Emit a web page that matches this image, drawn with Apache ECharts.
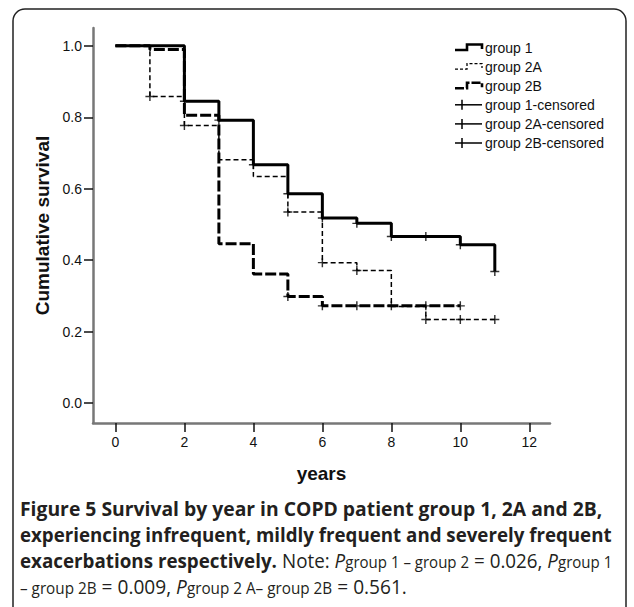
<!DOCTYPE html>
<html><head><meta charset="utf-8">
<script src="https://cdn.jsdelivr.net/npm/echarts@6/dist/echarts.min.js"></script>
<style>html,body{margin:0;padding:0;background:#fff}#c{width:634px;height:607px}</style>
</head><body><div id="c"></div>
<script>
// ---- data ----
const xTicks = [0, 2, 4, 6, 8, 10, 12];
const yTicks = [0.0, 0.2, 0.4, 0.6, 0.8, 1.0];

const g1Time = [0, 2, 3, 4, 5, 6, 7, 8, 10, 11];
const g1Surv = [1.0, 0.845, 0.792, 0.667, 0.586, 0.518, 0.503, 0.466, 0.443, 0.368];
const g2aTime = [0, 1, 2, 3, 4, 5, 6, 7, 8, 9, 11];
const g2aSurv = [1.0, 0.858, 0.777, 0.681, 0.634, 0.535, 0.393, 0.371, 0.270, 0.234, 0.234];
const g2bTime = [0, 1, 2, 3, 4, 5, 6, 10];
const g2bSurv = [1.0, 0.99, 0.806, 0.446, 0.361, 0.298, 0.272, 0.272];

const g1CensTime = [2, 3, 4, 5, 6, 7, 8, 9, 10, 11];
const g1CensSurv = [0.845, 0.792, 0.667, 0.586, 0.518, 0.503, 0.466, 0.466, 0.443, 0.368];
const g2aCensTime = [1, 2, 5, 6, 7, 9, 10, 11];
const g2aCensSurv = [0.858, 0.777, 0.535, 0.393, 0.371, 0.234, 0.234, 0.234];
const g2bCensTime = [5, 6, 7, 8, 9, 10];
const g2bCensSurv = [0.298, 0.272, 0.272, 0.272, 0.272, 0.272];

const seriesNames = ['group 1', 'group 2A', 'group 2B', 'group 1-censored', 'group 2A-censored', 'group 2B-censored'];

// ---- build ----
const zip = (a, b) => a.map((v, i) => [v, b[i]]);
const AX = 'Liberation Sans, Arial, sans-serif';
const CAP = 'Open Sans, Noto Sans, sans-serif';
const ink = '#111';
const cross = 'path://M0,4.2 H10 V5.8 H0 Z M4.2,0 H5.8 V10 H4.2 Z';

const lineStyles = [
  { color: '#000', width: 3, type: 'solid' },
  { color: '#000', width: 1.5, type: [5, 3] },
  { color: '#000', width: 3, type: [11, 3] }
];

const chart = echarts.init(document.getElementById('c'), null, { renderer: 'svg' });

// legend drawn as graphic
const lgX = 455, lgY0 = 47.5, lgDy = 19.1;
const legendGraphics = [];
seriesNames.forEach((name, i) => {
  const y = lgY0 + i * lgDy;
  if (i < 3) {
    legendGraphics.push({
      type: 'polyline',
      shape: { points: [[lgX, y + 2.5], [lgX + 12, y + 2.5], [lgX + 12, y - 3], [lgX + 27, y - 3], [lgX + 27, y + 1.5]] },
      style: { fill: null, stroke: '#000', lineWidth: i === 1 ? 1.3 : 2.6, lineDash: i === 1 ? [3, 2] : (i === 2 ? [9, 2] : null) }
    });
  } else {
    legendGraphics.push({ type: 'line', shape: { x1: lgX, y1: y, x2: lgX + 27, y2: y }, style: { stroke: '#000', lineWidth: 1.5 } });
    legendGraphics.push({ type: 'line', shape: { x1: lgX + 7, y1: y - 5, x2: lgX + 7, y2: y + 5 }, style: { stroke: '#000', lineWidth: 1.5 } });
  }
  legendGraphics.push({
    type: 'text', x: lgX + 30, y: y,
    style: { text: name, fontFamily: AX, fontSize: 14, fill: ink, verticalAlign: 'middle', align: 'left' }
  });
});

const rich = {
  b: { fontFamily: CAP, fontWeight: 'bold', fontSize: 20, lineHeight: 26, fill: '#231f20', verticalAlign: 'bottom' },
  r: { fontFamily: CAP, fontSize: 20, lineHeight: 26, fill: '#231f20', verticalAlign: 'bottom' },
  i: { fontFamily: CAP, fontStyle: 'italic', fontSize: 20, lineHeight: 26, fill: '#231f20', verticalAlign: 'bottom' },
  s: { fontFamily: CAP, fontSize: 16, lineHeight: 11, fill: '#231f20', verticalAlign: 'bottom' }
};
const capLines = [
  '{b|Figure 5 Survival by year in COPD patient group 1, 2A and 2B,}',
  '{b|experiencing infrequent, mildly frequent and severely frequent}',
  '{b|exacerbations respectively.}{r| Note: }{i|P}{s|group 1 – group 2}{r| = 0.026, }{i|P}{s|group 1}',
  '{s|– group 2B}{r| = 0.009, }{i|P}{s|group 2 A– group 2B}{r| = 0.561.}'
];
const capY = [505, 531, 557, 583];
const capScale = [0.967, 0.936, 0.94, 0.955];
const capGraphics = capLines.map((t, i) => ({
  type: 'text', x: 20, y: capY[i], scaleX: capScale[i],
  style: { text: t, rich: rich, verticalAlign: 'middle', align: 'left' }
}));

const option = {
  animation: false,
  backgroundColor: '#fff',
  grid: { left: 93, right: 84, top: 28, bottom: 184, containLabel: false },
  xAxis: {
    type: 'value', min: -0.65, max: 12.6,
    name: 'years', nameLocation: 'middle', nameGap: 41,
    nameTextStyle: { fontFamily: AX, fontSize: 19, fontWeight: 'bold', color: ink },
    axisLine: { show: true, onZero: false, lineStyle: { color: '#777', width: 2.5 } },
    axisTick: { show: true, customValues: xTicks, length: 9, lineStyle: { color: ink, width: 1.5 } },
    axisLabel: { customValues: xTicks, margin: 12, fontFamily: AX, fontSize: 14, color: ink },
    splitLine: { show: false }
  },
  yAxis: {
    type: 'value', min: -0.056, max: 1.05,
    name: 'Cumulative survival', nameLocation: 'middle', nameGap: 31,
    nameTextStyle: { fontFamily: AX, fontSize: 19, fontWeight: 'bold', color: ink },
    axisLine: { show: true, onZero: false, lineStyle: { color: '#777', width: 2.5 } },
    axisTick: { show: true, customValues: yTicks, length: 9, lineStyle: { color: ink, width: 1.5 } },
    axisLabel: { customValues: yTicks, margin: 11, fontFamily: AX, fontSize: 14, color: ink, formatter: v => v.toFixed(1) },
    splitLine: { show: false }
  },
  series: [
    { name: seriesNames[0], type: 'line', step: 'end', symbol: 'none', data: zip(g1Time, g1Surv), lineStyle: lineStyles[0], z: 4 },
    { name: seriesNames[1], type: 'line', step: 'end', symbol: 'none', data: zip(g2aTime, g2aSurv), lineStyle: lineStyles[1], z: 3 },
    { name: seriesNames[2], type: 'line', step: 'end', symbol: 'none', data: zip(g2bTime, g2bSurv), lineStyle: lineStyles[2], z: 3 },
    { name: seriesNames[3], type: 'scatter', symbol: cross, symbolSize: 9, data: zip(g1CensTime, g1CensSurv), itemStyle: { color: '#000' }, z: 5 },
    { name: seriesNames[4], type: 'scatter', symbol: cross, symbolSize: 9, data: zip(g2aCensTime, g2aCensSurv), itemStyle: { color: '#000' }, z: 5 },
    { name: seriesNames[5], type: 'scatter', symbol: cross, symbolSize: 9, data: zip(g2bCensTime, g2bCensSurv), itemStyle: { color: '#000' }, z: 5 }
  ],
  graphic: [
    { type: 'rect', shape: { x: 13, y: 9, width: 613, height: 640, r: 12 }, style: { fill: null, stroke: '#222', lineWidth: 1.5 }, z: -1 }
  ].concat(legendGraphics, capGraphics)
};
chart.setOption(option);
</script>
</body></html>
